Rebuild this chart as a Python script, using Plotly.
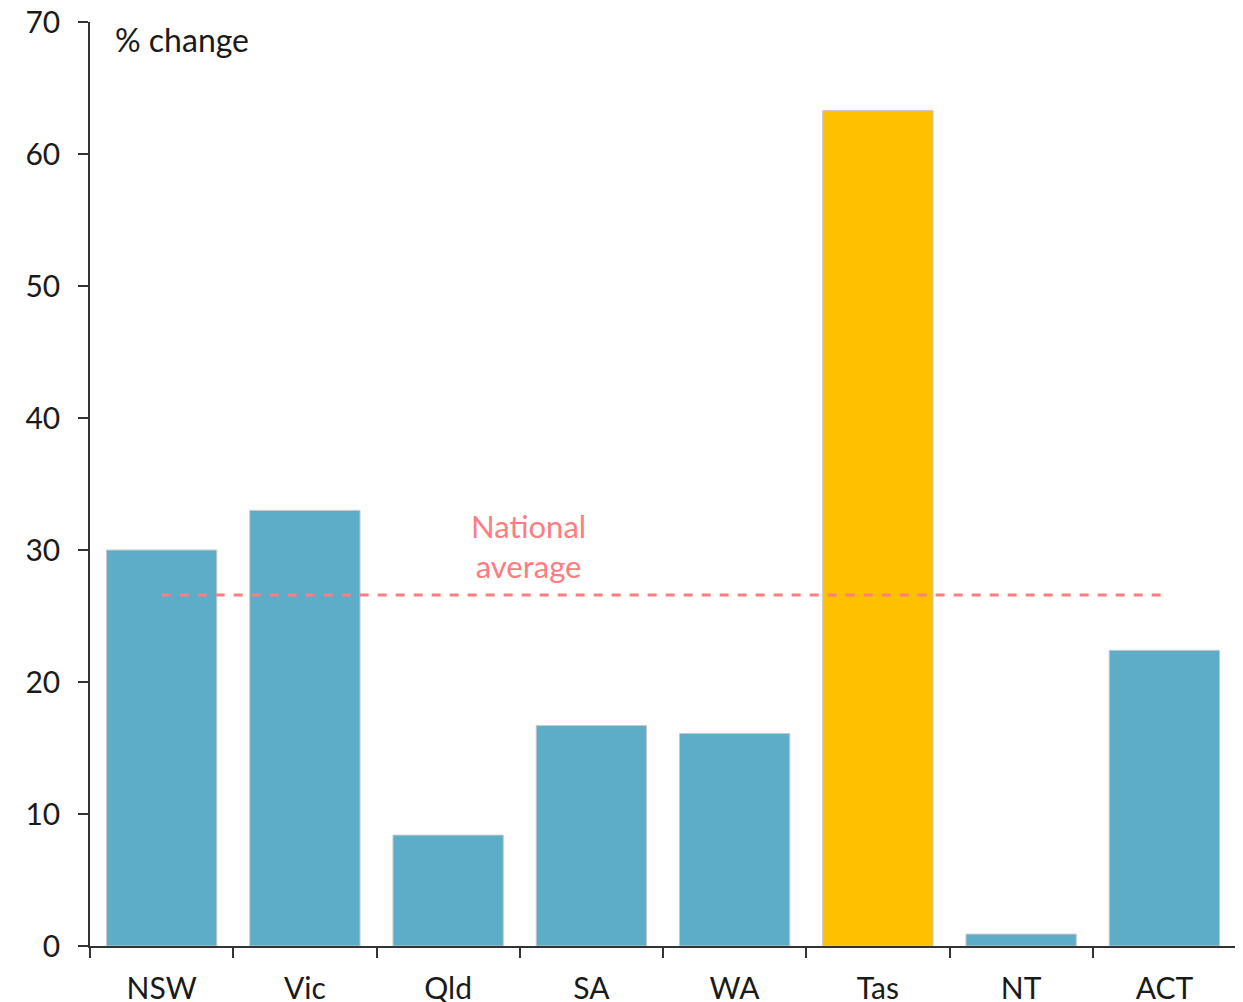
import plotly.graph_objects as go

states = ["NSW", "Vic", "Qld", "SA", "WA", "Tas", "NT", "ACT"]
pct_change = [30.0, 33.0, 8.4, 16.7, 16.1, 63.3, 0.9, 22.4]
national_average = 26.6
highlight = "Tas"

colors = ["#FFC000" if s == highlight else "#5DADC8" for s in states]

fig = go.Figure()
fig.add_trace(go.Bar(
    x=states, y=pct_change,
    marker=dict(color=colors, line=dict(color="#C8C8C8", width=1)),
    showlegend=False, hoverinfo="x+y",
))
fig.add_trace(go.Scatter(
    x=[states[0], states[-1]], y=[national_average, national_average],
    mode="lines", line=dict(color="#FF7C80", width=3, dash="dash"),
    showlegend=False,
))

font_family = "Lato, 'Noto Sans', sans-serif"
fig.add_annotation(
    x=2.56, y=30.3, xref="x", yref="y",
    text="National<br>average", showarrow=False,
    font=dict(family=font_family, size=31, color="#FF7C80"),
    align="center",
)
fig.add_annotation(
    x=0.02, y=1.0, xref="paper", yref="paper",
    xanchor="left", yanchor="top", yshift=4,
    text="% change", showarrow=False,
    font=dict(family=font_family, size=32, color="#1a1a1a"),
)

fig.update_layout(
    width=1243, height=1002,
    margin=dict(l=82, r=15, t=14, b=64),
    plot_bgcolor="white", paper_bgcolor="white",
    bargap=0.23,
    font=dict(family=font_family, size=30, color="#1a1a1a"),
)
fig.update_xaxes(
    range=[-0.5, 7.5], showline=True, linecolor="#333333", linewidth=1.5,
    ticks="outside", tickson="boundaries", ticklen=10, tickwidth=1.5, tickcolor="#333333",
    showgrid=False, tickfont=dict(size=30), fixedrange=True,
    automargin=False, ticklabelstandoff=15, ticklabeloverflow="allow",
)
fig.update_yaxes(
    range=[0, 70], dtick=10, showline=True, linecolor="#333333", linewidth=1.5,
    ticks="outside", ticklen=10, tickwidth=1.5, tickcolor="#333333",
    showgrid=False, zeroline=False, tickfont=dict(size=30), fixedrange=True,
    automargin=False, ticklabelstandoff=12, ticklabeloverflow="allow",
)

fig.write_html("out.html")
